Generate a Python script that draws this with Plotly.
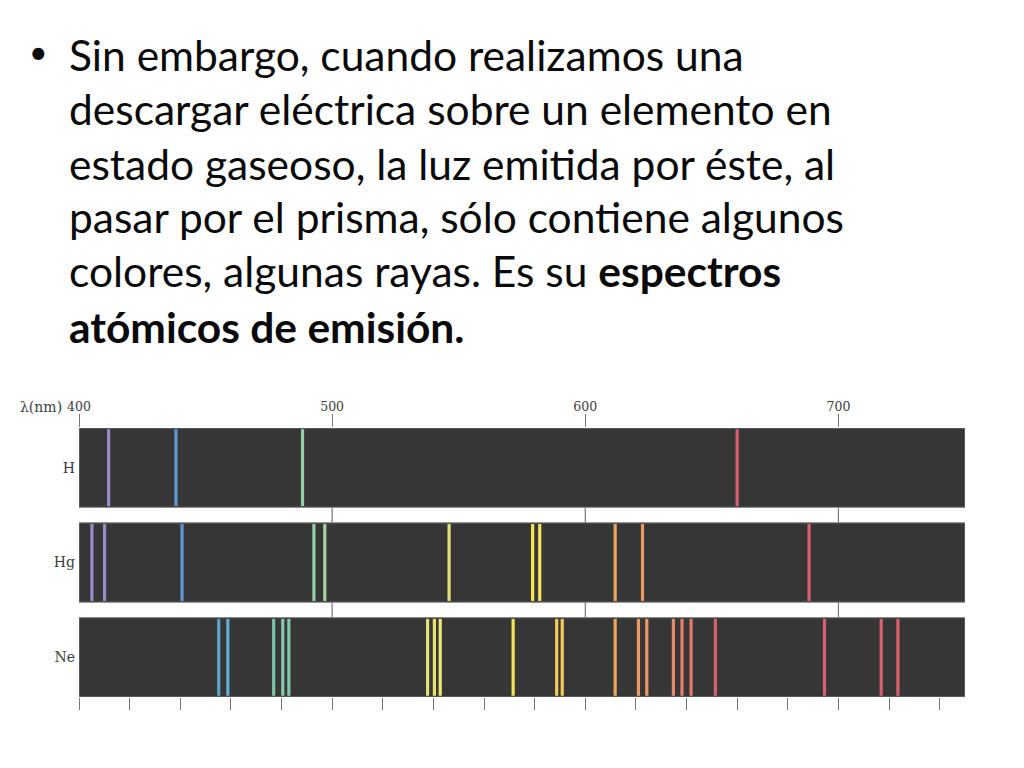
import plotly.graph_objects as go

W, H = 1024, 768

text_lines = [
    "Sin embargo, cuando realizamos una",
    "descargar eléctrica sobre un elemento en",
    "estado gaseoso, la luz emitida por éste, al",
    "pasar por el prisma, sólo contiene algunos",
    "colores, algunas rayas. Es su <b>espectros</b>",
    "<b>atómicos de emisión.</b>",
]
text_y_px = [54, 108, 163, 217, 271, 326]

elements = ["H", "Hg", "Ne"]
h_nm = [411.7, 438.3, 488.3, 660.0]
h_col = ["#9a8cc8", "#5f97d6", "#93cfa8", "#d9606e"]
hg_nm = [405.1, 410.1, 440.7, 492.8, 497.1, 546.2, 579.2, 582.0, 611.8, 622.6, 688.4]
hg_col = ["#9a8cc8", "#9a8cc8", "#5f97d6", "#93cfa8", "#a5d6a0", "#e3e07a", "#f7e64e", "#f5e25a",
          "#eda45e", "#ea9a62", "#d9606e"]
ne_nm = [455.2, 458.8, 476.9, 480.5, 482.9, 537.7, 540.4, 542.7, 571.5, 588.7, 590.9, 611.8,
         621.0, 624.3, 634.8, 638.2, 641.8, 651.4, 694.5, 716.9, 723.5]
ne_col = ["#5aa5cc", "#62aed0", "#7cc4a8", "#8ccab0", "#84c8ac", "#e3e07a", "#e8e270", "#ece672",
          "#f4e45c", "#f2cc5c", "#f2c858", "#eda45e", "#ea9a62", "#ea9a62", "#e88a6c", "#e6806c",
          "#e4786a", "#d9606e", "#d9606e", "#d9606e", "#d9606e"]
all_nm = [h_nm, hg_nm, ne_nm]
all_col = [h_col, hg_col, ne_col]

major_ticks = [400, 500, 600, 700]
gap_ticks = [500, 600, 700]
minor_ticks = list(range(400, 741, 20))
band_half = 0.418

fig = go.Figure()
fig.add_trace(go.Bar(
    y=[0, 1, 2], x=[350, 350, 350], base=400, orientation="h", width=band_half * 2,
    marker=dict(color="#363636", line=dict(color="#7c7c7c", width=1)), showlegend=False,
))
for row, (nms, cols) in enumerate(zip(all_nm, all_col)):
    for nm, col in zip(nms, cols):
        fig.add_trace(go.Scatter(
            x=[nm, nm], y=[row - 0.405, row + 0.405], mode="lines",
            line=dict(color=col, width=3.2), showlegend=False,
        ))
for tk in gap_ticks:
    for gap in (0.5, 1.5):
        fig.add_trace(go.Scatter(
            x=[tk, tk], y=[gap - 0.082, gap + 0.082], mode="lines",
            line=dict(color="#777777", width=1.2), showlegend=False,
        ))
# invisible trace that activates the top axis
fig.add_trace(go.Scatter(x=[400, 750], y=[0, 0], xaxis="x2", mode="lines",
                         line=dict(width=0), showlegend=False, hoverinfo="skip"))

annotations = []
annotations.append(dict(text="•", x=27 / W, y=1 - 51 / H, xref="paper", yref="paper", xanchor="left",
                        yanchor="middle", showarrow=False,
                        font=dict(family="Lato", size=32, color="#0a0a0a")))
for line, ypx in zip(text_lines, text_y_px):
    annotations.append(dict(text=line, x=70 / W, y=1 - ypx / H, xref="paper", yref="paper",
                            xanchor="left", yanchor="middle", showarrow=False, xshift=-3,
                            font=dict(family="Lato", size=42.5, color="#0a0a0a")))
annotations.append(dict(text="λ(nm)", x=64 / W, y=1 - 407 / H, xref="paper", yref="paper",
                        xanchor="right", yanchor="middle", showarrow=False,
                        font=dict(family="DejaVu Serif", size=14, color="#3c3c3c")))

tick_font = dict(family="DejaVu Serif", size=12.5, color="#3c3c3c")
fig.update_layout(
    width=W, height=H, margin=dict(l=0, r=0, t=0, b=0, autoexpand=False),
    paper_bgcolor="#ffffff", plot_bgcolor="rgba(0,0,0,0)", showlegend=False,
    barmode="overlay", annotations=annotations,
    xaxis=dict(domain=[79 / W, 965 / W], range=[400, 750], tickmode="array", tickvals=minor_ticks,
               ticktext=[""] * len(minor_ticks), ticks="outside", ticklen=12, tickwidth=1.2,
               tickcolor="#777777", showgrid=False, zeroline=False, showline=False, side="bottom",
               anchor="y", automargin=False),
    xaxis2=dict(domain=[79 / W, 965 / W], range=[400, 750], overlaying="x", side="top", anchor="y",
                tickmode="array", tickvals=major_ticks, ticktext=[str(t) for t in major_ticks],
                ticks="outside", ticklen=13, tickwidth=1.2, tickcolor="#777777", tickfont=tick_font,
                ticklabelstandoff=-2,
                showgrid=False, zeroline=False, showline=False, automargin=False),
    yaxis=dict(domain=[1 - 697 / H, 1 - 428 / H], range=[2 + band_half, -band_half], tickmode="array",
               tickvals=[0, 1, 2], ticktext=elements, ticks="", ticklabelstandoff=3,
               tickfont=dict(family="DejaVu Serif", size=14, color="#3c3c3c"),
               showgrid=False, zeroline=False, showline=False, automargin=False),
)
fig.write_html("out.html", config={"displayModeBar": False},
               post_script="document.body.style.margin='0';")
